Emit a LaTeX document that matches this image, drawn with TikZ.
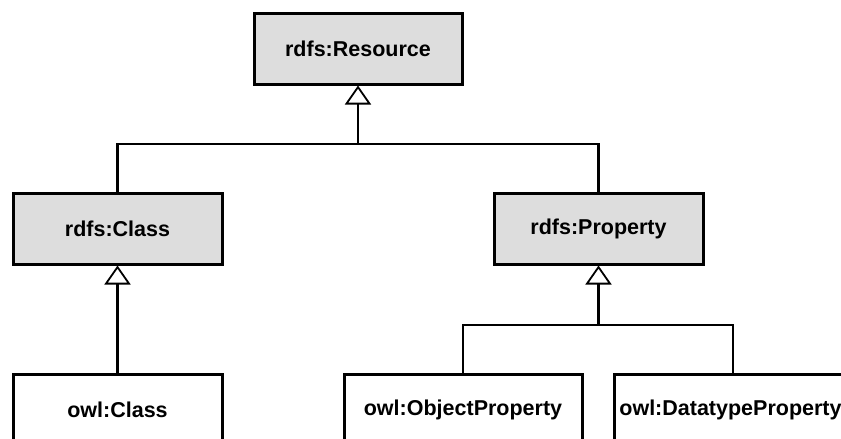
\documentclass[tikz,border=0pt]{standalone}
\usepackage{fontspec}
\setmainfont{Liberation Sans}
\usetikzlibrary{arrows.meta}
\definecolor{boxgray}{RGB}{221,221,221}
\tikzset{
  cls/.style={draw=black, line width=3pt, minimum height=71pt, inner sep=0pt,
    font=\fontsize{21.5}{25}\selectfont\bfseries},
  abstractcls/.style={cls, fill=boxgray},
  concretecls/.style={cls, fill=white},
  link/.style={line width=2.8pt},
  inherit/.style={link, -{Triangle[fill=white, length=19pt, width=26pt, line width=1.8pt]}}
}
\begin{document}
\begin{tikzpicture}[x=1pt, y=-1pt]
\useasboundingbox (0,0) rectangle (841,439);
\clip (0,0) rectangle (841,439);
\node[abstractcls, minimum width=208pt] (res) at (358,48.5) {rdfs:Resource};
\node[abstractcls, minimum width=209pt] (rcls) at (117.5,228.5) {rdfs:Class};
\node[abstractcls, minimum width=209pt] (rprop) at (598.5,228.5) {rdfs:Property};
\node[concretecls, minimum width=209pt] (owlc) at (117.5,409.5) {owl:Class};
\node[concretecls, minimum width=238pt] (op) at (463,409.5) {owl:ObjectProperty};
\node[concretecls, minimum width=238pt] (dp) at (733,409.5) {\hspace*{-5pt}owl:DatatypeProperty};
\coordinate (j1) at (358,144);
\coordinate (j2) at (598.5,325);
\draw[link] (rcls.north) |- (j1) -| (rprop.north);
\draw[inherit] (j1) -- (res.south);
\draw[inherit] (owlc.north) -- (rcls.south);
\draw[link] (op.north) |- (j2) -| (dp.north);
\draw[inherit] (j2) -- (rprop.south);
\end{tikzpicture}
\end{document}
